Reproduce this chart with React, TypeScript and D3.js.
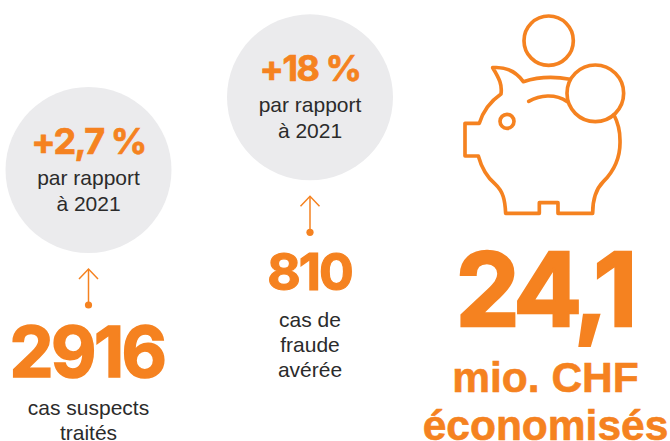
import * as d3 from "d3";

const ORANGE = "#f58220";
const GREY = "#ebebed";
const DARK = "#2b2b2b";
const FONT = "'Liberation Sans', Arial, sans-serif";
const NUM_FONT = "Inter, 'Liberation Sans', sans-serif";

// the figures, left to right
const changes = ["+2,7 %", "+18 %"];
const compareLines = ["par rapport", "à 2021"];
const counts = ["2916", "810"];
const captions = [["cas suspects", "traités"], ["cas de", "fraude", "avérée"]];
const savedValue = "24,1";
const savedLines = ["mio. CHF", "économisés"];

// pig outline, traced at 3x
const pigBody =
  "M250,245 C290,232 340,228 390,238 M250,245 C225,210 195,200 158,203 C178,235 187,255 183,282 C150,305 130,330 118,370 L75,370 L75,468 L115,468 C125,505 140,530 165,552 C190,575 195,600 197,640 L298,640 L298,608 L354,608 L354,640 L458,640 C458,600 465,570 490,545 C525,510 542,470 540,420 C540,395 535,370 522,345";
const pigSlot = "M266,304 C300,285 345,280 382,305";

const colX = d3.scaleOrdinal<number, number>().domain([0, 1]).range([88.5, 310]);

function Badge({ cx, cy, change }: { cx: number; cy: number; change: string }) {
  const arrowTop = cy + 99;
  const arrowBottom = cy + 135;
  const head = d3.path();
  head.moveTo(cx - 9.5, arrowTop + 10);
  head.lineTo(cx, arrowTop);
  head.lineTo(cx + 9.5, arrowTop + 10);
  return (
    <g>
      <circle cx={cx} cy={cy} r={83} fill={GREY} />
      <text x={cx} y={cy - 16.5} textAnchor="middle" fontFamily={NUM_FONT} fontSize={36} fontWeight={700} fill={ORANGE} stroke={ORANGE} strokeWidth={0.7} letterSpacing={-1.5}>
        {change}
      </text>
      {compareLines.map((l, i) => (
        <text key={i} x={cx} y={cy + 15 + i * 25.5} textAnchor="middle" fontSize={21} fill={DARK}>
          {l}
        </text>
      ))}
      <line x1={cx} x2={cx} y1={arrowTop} y2={arrowBottom} stroke={ORANGE} strokeWidth={1.5} />
      <path d={head.toString()} fill="none" stroke={ORANGE} strokeWidth={1.5} />
      <circle cx={cx} cy={arrowBottom} r={3.6} fill={ORANGE} />
    </g>
  );
}

export default function App() {
  return (
    <svg width={670} height={441} style={{ position: "absolute", left: 0, top: 0 }} fontFamily={FONT}>
      <Badge cx={colX(0)} cy={170} change={changes[0]} />
      <Badge cx={colX(1)} cy={97.3} change={changes[1]} />

      <text x={colX(0) - 1.5} y={376.5} textAnchor="middle" fontFamily={NUM_FONT} fontSize={70} fontWeight={700} fill={ORANGE} stroke={ORANGE} strokeWidth={1.6} letterSpacing={-2.5}>
        {counts[0]}
      </text>
      <text x={colX(1) - 0.5} y={290} textAnchor="middle" fontFamily={NUM_FONT} fontSize={51.5} fontWeight={700} fill={ORANGE} stroke={ORANGE} strokeWidth={1.2} letterSpacing={-2}>
        {counts[1]}
      </text>
      {captions[0].map((l, i) => (
        <text key={i} x={colX(0)} y={415 + i * 25} textAnchor="middle" fontSize={21} fill={DARK}>
          {l}
        </text>
      ))}
      {captions[1].map((l, i) => (
        <text key={i} x={colX(1)} y={326.7 + i * 25} textAnchor="middle" fontSize={21} fill={DARK}>
          {l}
        </text>
      ))}

      <g transform="translate(440,0) scale(0.3333)" fill="none" stroke={ORANGE} strokeWidth={11}>
        <path d={pigBody} strokeLinejoin="round" strokeLinecap="round" />
        <path d={pigSlot} strokeLinecap="round" />
        <circle cx={201} cy={364} r={21} />
        <circle cx={326} cy={122} r={74} />
        <circle cx={466} cy={280} r={85} />
      </g>

      <text x={544} y={326} textAnchor="middle" fontFamily={NUM_FONT} fontSize={102} fontWeight={700} fill={ORANGE} stroke={ORANGE} strokeWidth={2.4} letterSpacing={-5}>
        {savedValue}
      </text>
      {savedLines.map((l, i) => (
        <text key={i} x={545.5} y={392 + i * 48} textAnchor="middle" fontSize={42.5} fontWeight={700} fill={ORANGE} stroke={ORANGE} strokeWidth={0.6}>
          {l}
        </text>
      ))}
    </svg>
  );
}
